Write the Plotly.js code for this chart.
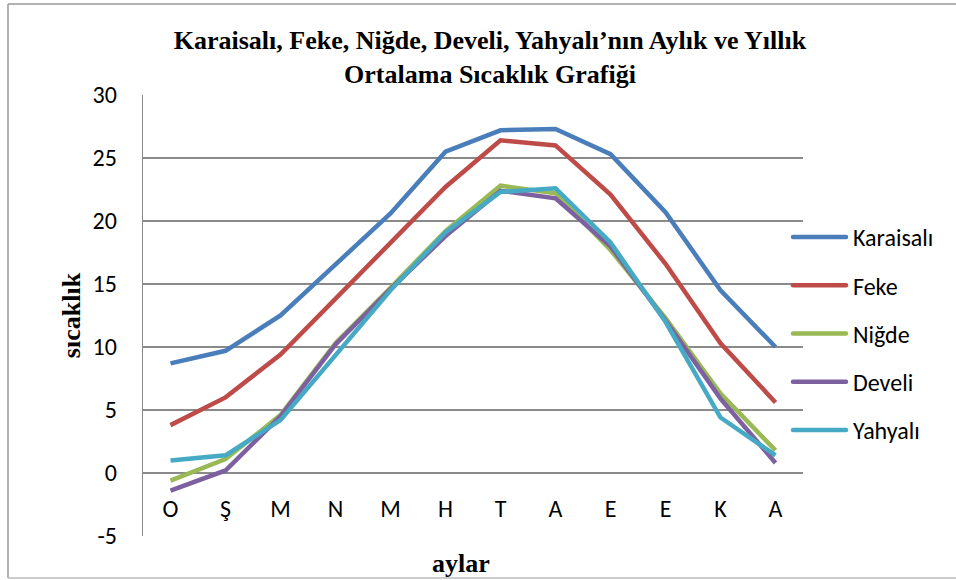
<!DOCTYPE html>
<html>
<head>
<meta charset="utf-8">
<script src="https://cdn.plot.ly/plotly-3.0.1.min.js"></script>
<style>html,body{margin:0;padding:0;background:#fff;}#chart{width:956px;height:580px;}</style>
</head>
<body>
<div id="chart"></div>
<script>
var categories = ['O','Ş','M','N','M','H','T','A','E','E','K','A'];
var seriesNames = ['Karaisalı','Feke','Niğde','Develi','Yahyalı'];
var karaisali = [8.7, 9.7, 12.5, 16.6, 20.6, 25.5, 27.2, 27.3, 25.3, 20.7, 14.5, 10.0];
var feke      = [3.8, 6.0, 9.4, 13.8, 18.3, 22.7, 26.4, 26.0, 22.1, 16.6, 10.3, 5.6];
var nigde     = [-0.6, 1.1, 4.6, 10.3, 14.7, 19.2, 22.8, 22.2, 17.7, 12.3, 6.3, 1.8];
var develi    = [-1.4, 0.2, 4.5, 10.2, 14.6, 18.8, 22.4, 21.8, 18.0, 12.1, 5.9, 0.8];
var yahyali   = [1.0, 1.4, 4.2, 9.4, 14.5, 19.1, 22.3, 22.6, 18.3, 12.0, 4.4, 1.4];
var yTicks = [-5, 0, 5, 10, 15, 20, 25, 30];
var yTickText = ['-5', '0', '5', '10', '15', '20', '25', '30'];

var seriesValues = [karaisali, feke, nigde, develi, yahyali];
var colors = ['#4A7EBB', '#BE4B48', '#98B954', '#7D60A0', '#46AAC5'];
var xIdx = categories.map(function(_, i){ return i; });

var traces = seriesValues.map(function(vals, k){
  return {
    type: 'scatter', mode: 'lines',
    x: xIdx, y: vals, name: seriesNames[k],
    legendgroup: 'g' + k,
    line: {color: colors[k], width: 4.5},
    hoverinfo: 'skip'
  };
});

var lab = 'Carlito, Lato, sans-serif';
var ser = '"Liberation Serif", "Times New Roman", serif';
var yMin = -5, yMax = 30;

var layout = {
  width: 956, height: 580,
  margin: {l: 143, r: 153, t: 95, b: 44},
  paper_bgcolor: '#ffffff', plot_bgcolor: '#ffffff',
  showlegend: true,
  title: {
    text: '<b>Karaisalı, Feke, Niğde, Develi, Yahyalı’nın Aylık ve Yıllık<br>Ortalama Sıcaklık Grafiği</b>',
    font: {family: ser, size: 26, color: '#000'},
    x: 490/956, xanchor: 'center', xref: 'container',
    y: 1 - 49/580, yanchor: 'middle', yref: 'container'
  },
  xaxis: {
    range: [-0.5, 11.5],
    tickvals: xIdx, ticktext: categories,
    anchor: 'free', position: (0 - yMin) / (yMax - yMin),
    showline: false, showgrid: false, zeroline: false,
    ticks: '', ticklabelstandoff: 19,
    tickfont: {family: lab, size: 24, color: '#000'},
    fixedrange: true
  },
  yaxis: {
    range: [yMin, yMax], tickvals: yTicks, ticktext: yTickText,
    showgrid: true, gridcolor: '#8a8a8a', gridwidth: 1.3,
    zeroline: false,
    showline: true, linecolor: '#8a8a8a', linewidth: 1.3,
    ticks: '', ticklabelstandoff: 20,
    tickfont: {family: lab, size: 24, color: '#000'},
    title: {text: '<b>sıcaklık</b>', font: {family: ser, size: 26, color: '#000'}, standoff: 4},
    fixedrange: true
  },
  legend: {
    x: (788 - 143) / 660, xanchor: 'left',
    y: 1 - (215 - 95) / 441, yanchor: 'top',
    bgcolor: 'rgba(0,0,0,0)',
    font: {family: lab, size: 24, color: '#000'},
    traceorder: 'grouped', tracegroupgap: 14,
    itemwidth: 55,
    itemclick: false, itemdoubleclick: false
  },
  annotations: [{
    text: '<b>aylar</b>', showarrow: false,
    xref: 'paper', yref: 'paper',
    x: (461 - 143) / 660, y: (536 - 563) / 441,
    xanchor: 'center', yanchor: 'middle',
    font: {family: ser, size: 26, color: '#000'}
  }],
  shapes: [
    {type: 'line', xref: 'paper', yref: 'paper', x0: (8-143)/660, x1: (8-143)/660, y0: (536-4)/441, y1: (536-578)/441, line: {color: '#999', width: 1.5}},
    {type: 'line', xref: 'paper', yref: 'paper', x0: (8-143)/660, x1: (956-143)/660, y0: (536-4)/441, y1: (536-4)/441, line: {color: '#999', width: 1.5}},
    {type: 'line', xref: 'paper', yref: 'paper', x0: (8-143)/660, x1: (956-143)/660, y0: (536-578)/441, y1: (536-578)/441, line: {color: '#bbb', width: 1.5}}
  ]
};

function fixLegend(gd){
  var paths = gd.querySelectorAll('.legend .legendlines path');
  paths.forEach(function(p){ p.setAttribute('d', 'M5,0h53'); p.style.strokeLinecap = 'round'; });
}

Plotly.newPlot('chart', traces, layout, {displayModeBar: false, staticPlot: true}).then(function(gd){
  fixLegend(gd);
  gd.on('plotly_afterplot', function(){ fixLegend(gd); });
  setTimeout(function(){ fixLegend(gd); }, 50);
});
</script>
</body>
</html>
